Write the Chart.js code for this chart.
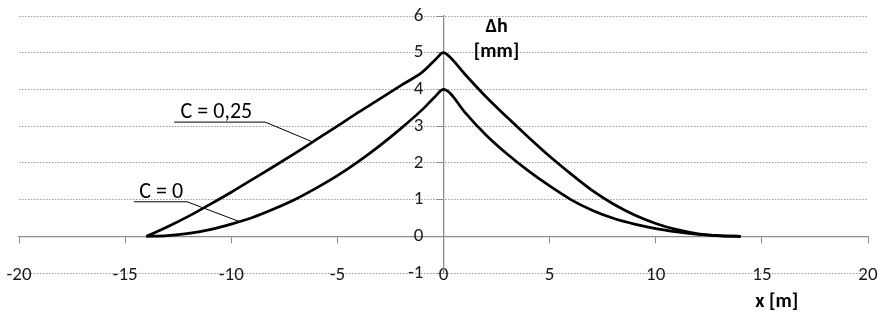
<!DOCTYPE html>
<html>
<head>
<meta charset="utf-8">
<script src="https://cdn.jsdelivr.net/npm/chart.js@4.4.1/dist/chart.umd.min.js"></script>
<style>
  html, body { margin: 0; padding: 0; background: #fff; }
  #wrap { width: 882px; height: 331px; }
</style>
</head>
<body>
<div id="wrap"><canvas id="graf" width="882" height="331"></canvas></div>
<script>
// valores (x em m, Δh em mm)
const xPontos = [-14, -13, -12, -11, -10, -9, -8, -7, -6, -5, -4, -3, -2, -1, -0.4, 0,
                 0.3, 1, 2, 3, 4, 5, 6, 7, 8, 9, 10, 11, 12, 13, 14];
const hC025 = [0, 0.26, 0.55, 0.87, 1.2, 1.55, 1.9, 2.26, 2.63, 3.0, 3.38, 3.74, 4.11, 4.47, 4.8, 5,
               4.88, 4.42, 3.8, 3.24, 2.7, 2.18, 1.7, 1.25, 0.88, 0.58, 0.35, 0.18, 0.07, 0.02, 0];
const hC0 = [0, 0.02, 0.08, 0.18, 0.33, 0.51, 0.74, 1.0, 1.31, 1.65, 2.04, 2.47, 2.94, 3.45, 3.8, 4,
             3.9, 3.38, 2.76, 2.24, 1.78, 1.37, 1.0, 0.71, 0.49, 0.33, 0.21, 0.12, 0.05, 0.01, 0];
const rotulos = ['C = 0,25', 'C = 0'];

const fonte = "Carlito, Lato, 'Liberation Sans', sans-serif";

function pontos(ys) {
    return xPontos.map((x, i) => ({ x: x, y: ys[i] }));
}

// textos e linhas de chamada, em coordenadas do gráfico
const chamadas = [
    { texto: rotulos[0], tx: -10.7, ty: 3.17, sub: [-12.69, -8.4, 3.11], alvo: [-6.2, 2.58] },
    { texto: rotulos[1], tx: -13.3, ty: 1.0, sub: [-14.58, -12.08, 0.94], alvo: [-9.57, 0.39] }
];

const anotacoes = {
    id: 'anotacoes',
    afterDatasetsDraw(chart) {
        const ctx = chart.ctx;
        const sx = chart.scales.x, sy = chart.scales.y;
        ctx.save();
        ctx.strokeStyle = '#000';
        ctx.fillStyle = '#000';
        ctx.textAlign = 'center';
        ctx.textBaseline = 'alphabetic';
        ctx.font = '22px ' + fonte;
        chamadas.forEach(c => {
            ctx.fillText(c.texto, sx.getPixelForValue(c.tx), sy.getPixelForValue(c.ty) - 2);
            ctx.lineWidth = 1;
            ctx.beginPath();
            ctx.moveTo(sx.getPixelForValue(c.sub[0]), sy.getPixelForValue(c.sub[2]));
            ctx.lineTo(sx.getPixelForValue(c.sub[1]), sy.getPixelForValue(c.sub[2]));
            ctx.lineTo(sx.getPixelForValue(c.alvo[0]), sy.getPixelForValue(c.alvo[1]));
            ctx.stroke();
        });
        ctx.font = 'bold 20px ' + fonte;
        ctx.textBaseline = 'middle';
        ctx.fillText('Δh', sx.getPixelForValue(2.5), sy.getPixelForValue(5.69));
        ctx.fillText('[mm]', sx.getPixelForValue(2.5), sy.getPixelForValue(5.01));
        ctx.fillText('x [m]', sx.getPixelForValue(15.7), sy.getPixelForValue(-1.8));
        ctx.restore();
    }
};

const corEixo = '#8c8c8c';

const ctx = document.getElementById('graf').getContext('2d');
new Chart(ctx, {
    type: 'line',
    data: {
        datasets: [
            { label: rotulos[0], data: pontos(hC025), borderColor: '#000', borderWidth: 2.7,
              pointRadius: 0, cubicInterpolationMode: 'monotone', fill: false,
              xAxisID: 'x', yAxisID: 'y' },
            { label: rotulos[1], data: pontos(hC0), borderColor: '#000', borderWidth: 2.7,
              pointRadius: 0, cubicInterpolationMode: 'monotone', fill: false,
              xAxisID: 'x', yAxisID: 'y' }
        ]
    },
    options: {
        responsive: false,
        animation: false,
        layout: { padding: { left: 19, right: 14, top: 16, bottom: 58 } },
        plugins: {
            legend: { display: false },
            tooltip: { enabled: false }
        },
        scales: {
            // rótulos do eixo x, na linha y = -1
            x: {
                type: 'linear',
                axis: 'x',
                position: { y: -1 },
                min: -20, max: 20,
                ticks: { stepSize: 5, color: '#1a1a1a', padding: -17, maxRotation: 0,
                         font: { family: fonte, size: 19 } },
                grid: { display: false },
                border: { display: false }
            },
            // linha do eixo x em y = 0
            eixoX: {
                type: 'linear',
                axis: 'x',
                position: { y: 0 },
                min: -20, max: 20,
                ticks: { stepSize: 5, display: false },
                grid: { drawOnChartArea: false, drawTicks: true, tickLength: 6, color: corEixo },
                border: { display: true, color: corEixo, width: 1.3 }
            },
            // rótulos do eixo y + grade pontilhada
            y: {
                type: 'linear',
                axis: 'y',
                position: { x: -0.95 },
                min: -1, max: 6,
                ticks: { stepSize: 1, color: '#1a1a1a',
                         font: { family: fonte, size: 19 } },
                grid: { color: '#9a9a9a', lineWidth: 1, drawTicks: false },
                border: { display: false, dash: [1.5, 1.5] }
            },
            // linha do eixo y em x = 0
            eixoY: {
                type: 'linear',
                axis: 'y',
                position: { x: 0 },
                min: -1, max: 6,
                ticks: { stepSize: 1, display: false },
                grid: { drawOnChartArea: false, drawTicks: true, tickLength: 6, color: corEixo },
                border: { display: true, color: corEixo, width: 1.3 }
            }
        }
    },
    plugins: [anotacoes]
});
</script>
</body>
</html>
